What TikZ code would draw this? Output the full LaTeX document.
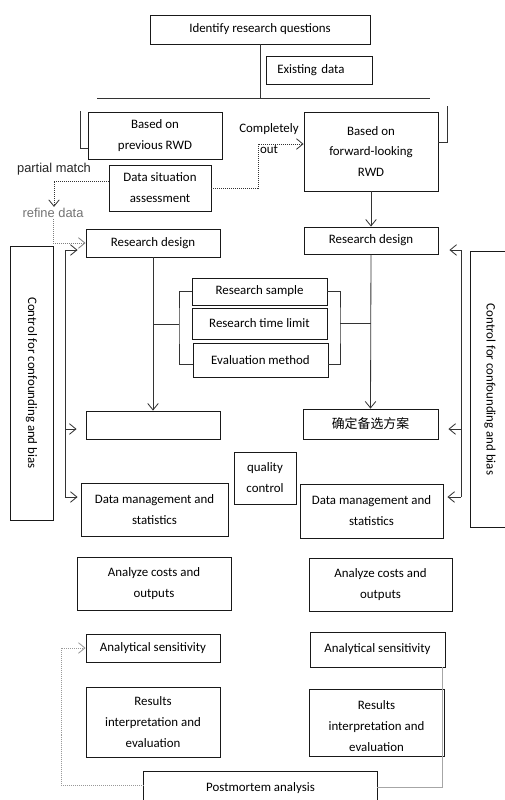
\documentclass[tikz,border=0pt]{standalone}
\usepackage{fontspec}
\setmainfont{Carlito}
\newfontfamily\arialfont{Liberation Sans}
\newfontfamily\cjk{Noto Sans CJK SC}
\usepackage{tikz}
\usetikzlibrary{calc, arrows.meta}
\newcommand{\bodyfont}{\fontsize{11}{17.9}\selectfont}
\tikzstyle{box}      = [rectangle, draw=black!90, line width=0.75pt, align=center, font=\bodyfont, inner sep=1pt]
\tikzstyle{slim}     = [box, minimum width=4.02cm, minimum height=0.84cm]
\tikzstyle{txt}      = [align=center, font=\bodyfont, inner sep=1pt]
\tikzstyle{note}     = [align=center, font=\arialfont\fontsize{11}{13}\selectfont, inner sep=1pt]
\tikzstyle{edge}     = [line width=0.75pt, draw=black!90]
\tikzstyle{line}     = [line width=0.7pt, draw=black!80]
\tikzstyle{arrow}    = [line, -{Straight Barb[length=5.5pt, width=9pt]}]
\tikzstyle{dotarrow} = [arrow, densely dotted]
\tikzstyle{grayline} = [line width=0.8pt, draw=black!35]

\begin{document}
\begin{tikzpicture}[x=0.03cm, y=-0.03cm]
    \useasboundingbox (0,0) rectangle (505,800);
    \coordinate (pagebot)   at (0,800);
    \coordinate (pageright) at (505,0);

    % question and data split
    \node (ques)  [box, minimum width=6.6cm, minimum height=0.87cm] at (260,29.5) {Identify research questions};
    \node (exist) [box, minimum width=3.18cm, minimum height=0.84cm, text width=2.5cm, inner xsep=0.34cm, align=left] at (319,70) {Existing data};
    \coordinate (splitL) at (97,98);
    \coordinate (splitR) at (430,98);
    \draw [line] (ques.south) -- (ques.south |- splitL);
    \draw [line] (splitL) -- (splitR);

    \node (prev) [box, minimum width=4.02cm, minimum height=1.41cm] at (155,135.5) {Based on\\previous RWD};
    \node (fwd)  [box, minimum width=4.02cm, minimum height=2.37cm] at (371,151.5) {Based on\\forward-looking\\RWD};
    \coordinate (brkPrev) at (80,111);
    \coordinate (brkFwd)  at (447,106);
    \draw [line] (brkPrev) |- ($(prev.south west)+(0,-11)$);
    \draw [line] (brkFwd)  |- ($(fwd.north east)+(0,31)$);

    \node (assess)  [box, minimum width=3.06cm, minimum height=1.38cm] at (160,188) {Data situation\\assessment};
    \node (compl)   [txt] at (269,139) {Completely\\out};
    \node (partial) [note, text=black!85] at (54,169) {partial match};
    \node (refine)  [note, text=black!55] at (53,213) {refine data};
    \coordinate (outturn)  at (258,144);
    \coordinate (partturn) at (54,181);
    \draw [dotarrow] (assess.east) -| (outturn) -- (outturn -| fwd.west);
    \draw [dotarrow] (partturn -| assess.west) -- (partturn) -- (partturn |- refine.north);

    % research design
    \node (rdL) [slim] at (153,243) {Research design};
    \node (rdR) [box, minimum width=4.02cm, minimum height=0.81cm] at (371,240.5) {Research design};
    \draw [dotarrow, draw=black!50] (refine.south) |- (rdL.west);
    \draw [arrow] (fwd.south) -- (rdR.north);

    \node (sample) [box, minimum width=4.05cm, minimum height=0.81cm] at (259.5,291.5) {Research sample};
    \node (tlimit) [box, minimum width=4.05cm, minimum height=0.93cm] at (259.5,323.5) {Research time limit};
    \node (evalm)  [box, minimum width=4.05cm, minimum height=1.02cm] at (260.5,360) {Evaluation method};
    \coordinate (brkL) at (179,324);
    \coordinate (brkR) at (340,323);
    \draw [line] (sample.west) -| (brkL) |- ($(evalm.west)+(0,4)$);
    \draw [line] (sample.east) -| (brkR) |- ($(evalm.east)+(0,4)$);
    \draw [line] (brkL) -- (brkL -| rdL.south);
    \draw [line] (brkR) -- (brkR -| rdR.south);

    \node (blankL) [slim] at (153,425) {};
    \node (altR)   [box, minimum width=4.05cm, minimum height=0.9cm, font=\cjk\fontsize{11}{13}\selectfont] at (370.5,424) {确定备选方案};
    \draw [arrow] (rdL.south) -- (blankL.north);
    \draw [arrow] (rdR.south) -- (altR.north);

    \node (qc)  [box, minimum width=1.86cm, minimum height=1.56cm] at (265,478) {quality\\control};
    \node (dmL) [box, minimum width=4.41cm, minimum height=1.59cm] at (154.5,509.5) {Data management and\\statistics};
    \node (dmR) [box, minimum width=4.29cm, minimum height=1.62cm] at (371.5,511) {Data management and\\statistics};

    % confounding control, both sides
    \node (ctrlL) [box, minimum width=1.29cm, minimum height=8.22cm] at (31.5,383) {\rotatebox{-90}{Control for confounding and bias}};
    \node (ctrlR) [txt, minimum width=1.14cm, minimum height=8.25cm] at (490,389.5) {\rotatebox{-90}{Control for confounding and bias}};
    \draw [edge] (ctrlR.north west -| pageright) -- (ctrlR.north west) -- (ctrlR.south west) -- (ctrlR.south west -| pageright);

    \coordinate (fbLtop) at (65,250);
    \coordinate (fbLmid) at (65,429);
    \coordinate (fbLbot) at (65,497);
    \draw [line] (fbLtop) -- (fbLbot);
    \draw [arrow, shorten >=0.24cm] (fbLtop) -- (fbLtop -| rdL.west);
    \draw [arrow, shorten >=0.27cm] (fbLmid) -- (fbLmid -| blankL.west);
    \draw [arrow, shorten >=0.09cm] (fbLbot) -- (fbLbot -| dmL.west);

    \coordinate (fbRtop) at (461,250);
    \coordinate (fbRmid) at (461,429);
    \coordinate (fbRbot) at (461,497);
    \draw [line] (fbRtop) -- (fbRbot);
    \draw [arrow, shorten >=0.33cm] (fbRtop) -- (fbRtop -| rdR.east);
    \draw [arrow, shorten >=0.3cm]  (fbRmid) -- (fbRmid -| altR.east);
    \draw [arrow, shorten >=0.12cm] (fbRbot) -- (fbRbot -| dmR.east);

    % analysis
    \node (costL) [box, minimum width=4.62cm, minimum height=1.59cm] at (154,583.5) {Analyze costs and\\outputs};
    \node (costR) [box, minimum width=4.29cm, minimum height=1.59cm] at (380.5,584.5) {Analyze costs and\\outputs};
    \node (sensL) [slim] at (153,648) {Analytical sensitivity};
    \node (sensR) [box, minimum width=4.05cm, minimum height=1.05cm] at (377.5,649.5) {Analytical sensitivity};
    \node (resL)  [box, minimum width=4.02cm, minimum height=2.1cm] at (153,722) {Results\\interpretation and\\evaluation};
    \node (resR)  [box, minimum width=4.05cm, minimum height=2.01cm] at (376.5,722.5) {};
    \node (resRtext) [txt] at (376.5,726.5) {Results\\interpretation and\\evaluation};

    \node (post) [txt, minimum width=6.99cm, minimum height=0.96cm] at (260.5,788) {Postmortem analysis};
    \draw [edge] (post.west |- pagebot) -- (post.north west) -- (post.north east) -- (post.east |- pagebot);

    \coordinate (pmL) at (61,785);
    \coordinate (pmR) at (442,787);
    \draw [dotarrow, draw=black!40] (pmL -| post.west) -- (pmL) |- (sensL.west);
    \draw [grayline] (pmR -| post.east) -- (pmR) -- (pmR |- sensR.south);

\end{tikzpicture}
\end{document}
